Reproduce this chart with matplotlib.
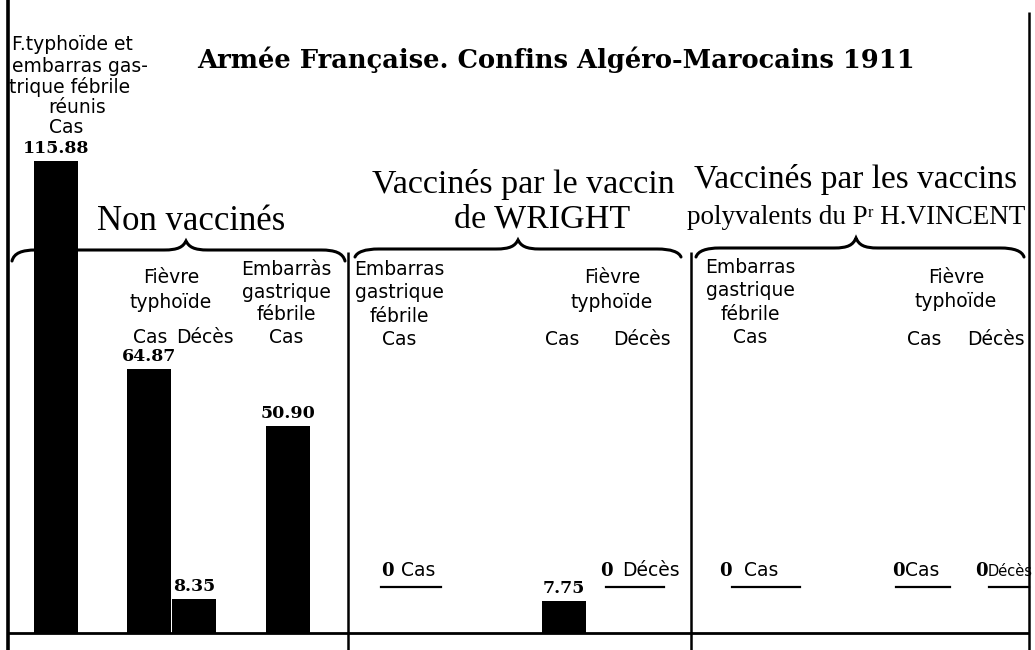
import matplotlib
matplotlib.use("Agg")
import matplotlib.pyplot as plt
from matplotlib.path import Path
from matplotlib.patches import PathPatch

# --- data -----------------------------------------------------------------
bar_labels = ["F. typhoïde et embarras gastrique fébrile réunis – Cas",
              "Non vaccinés – Fièvre typhoïde – Cas",
              "Non vaccinés – Fièvre typhoïde – Décès",
              "Non vaccinés – Embarras gastrique fébrile – Cas",
              "Vaccin de Wright – Fièvre typhoïde – Cas"]
bar_values = [115.88, 64.87, 8.35, 50.90, 7.75]
value_texts = ["115.88", "64.87", "8.35", "50.90", "7.75"]
zero_labels = ["Cas", "Décès", "Cas", "Cas", "Décès"]

title = "Armée Française. Confins Algéro-Marocains 1911"
group_titles = ["Non vaccinés",
                "Vaccinés par le vaccin\nde WRIGHT",
                "Vaccinés par les vaccins\npolyvalents du Pʳ H.VINCENT"]

# --- layout (figure pixel units) -----------------------------------------
W, H = 1035, 650
BASE = 633                      # baseline pixel row
PX_PER_UNIT = 4.07
bar_x = [56, 149, 194, 288, 564]
bar_w = 44

SANS = dict(family="DejaVu Sans")
SERIF = dict(family="Liberation Serif")
NUM = dict(family="DejaVu Serif", weight="bold")

fig = plt.figure(figsize=(W / 100, H / 100), dpi=100)
fig.patch.set_facecolor("white")

# layout axes: x/y in pixels, y pointing down
lay = fig.add_axes([0, 0, 1, 1])
lay.set_xlim(0, W)
lay.set_ylim(H, 0)
lay.axis("off")

# value axes: bottom edge on the baseline
top_val = BASE / PX_PER_UNIT
val = fig.add_axes([0, (H - BASE) / H, 1, BASE / H])
val.set_xlim(0, W)
val.set_ylim(0, top_val)
val.axis("off")
val.patch.set_alpha(0)

val.bar(bar_x, bar_values, width=bar_w, color="black", linewidth=0)
for x, v, t in zip(bar_x, bar_values, value_texts):
    val.annotate(t, xy=(x, v), xytext=(0, 3), textcoords="offset points",
                 ha="center", va="bottom", fontsize=12.5, **NUM)

# frame lines
lk = dict(color="black", solid_capstyle="butt")
lay.plot([8, 8], [0, H], lw=2.6, **lk)
lay.plot([8, 1029], [BASE, BASE], lw=2.0, **lk)
lay.plot([348, 348], [252, H], lw=1.8, **lk)
lay.plot([691, 691], [252, H], lw=1.8, **lk)
lay.plot([1029, 1029], [12, H], lw=1.8, **lk)


def brace(x0, x1, y, xm, tip, hook):
    """Horizontal curly brace opening downward, point at (xm, y - tip)."""
    verts = [(x0, y + hook),
             (x0 + 2, y + 3), (x0 + 10, y), (x0 + 24, y),
             (xm - 22, y),
             (xm - 8, y), (xm - 3, y - 3), (xm, y - tip),
             (xm + 3, y - 3), (xm + 8, y), (xm + 22, y),
             (x1 - 24, y),
             (x1 - 10, y), (x1 - 2, y + 3), (x1, y + hook)]
    codes = [Path.MOVETO,
             Path.CURVE4, Path.CURVE4, Path.CURVE4,
             Path.LINETO,
             Path.CURVE4, Path.CURVE4, Path.CURVE4,
             Path.CURVE4, Path.CURVE4, Path.CURVE4,
             Path.LINETO,
             Path.CURVE4, Path.CURVE4, Path.CURVE4]
    lay.add_patch(PathPatch(Path(verts, codes), fill=False, lw=2.2,
                            edgecolor="black", capstyle="round"))


brace(12, 345, 250, 186, 9, 11)
brace(355, 681, 249, 518, 9, 8)
brace(696, 1024, 248, 856, 10, 9)

# title
lay.text(556, 68, title, ha="center", va="baseline", fontsize=18.5,
         family="DejaVu Serif", weight="bold")

# group headings
lay.text(191, 230, group_titles[0], ha="center", va="baseline",
         fontsize=25, **SERIF)
head2 = group_titles[1].split("\n")
lay.text(523, 193, head2[0], ha="center", va="baseline", fontsize=24.5, **SERIF)
lay.text(542, 228, head2[1], ha="center", va="baseline", fontsize=24.5, **SERIF)
head3 = group_titles[2].split("\n")
lay.text(856, 188, head3[0], ha="center", va="baseline", fontsize=24, **SERIF)
lay.text(856, 224, head3[1], ha="center", va="baseline", fontsize=19.5, **SERIF)

# column headings
FS = 13.5


def txt(x, y, s, ha="center", fs=FS):
    lay.text(x, y, s, ha=ha, va="baseline", fontsize=fs, **SANS)


def lines(x, y0, rows, step=22):
    for i, r in enumerate(rows):
        txt(x, y0 + i * step, r)


txt(12, 50, "F.typhoïde et", ha="left")
txt(12, 72, "embarras gas-", ha="left")
txt(9, 93, "trique fébrile", ha="left")
txt(77, 113, "réunis")
txt(66, 133, "Cas")

lines(171, 283, ["Fièvre", "typhoïde"], step=25)
txt(150, 343, "Cas")
txt(205, 343, "Décès")
lines(286, 275, ["Embarràs", "gastrique", "fébrile", "Cas"], step=22.7)

lines(399, 275, ["Embarras", "gastrique", "fébrile", "Cas"], step=23.3)
lines(612, 283, ["Fièvre", "typhoïde"], step=25)
txt(562, 345, "Cas")
txt(642, 345, "Décès")

lines(750, 273, ["Embarras", "gastrique", "fébrile", "Cas"], step=23.3)
lines(956, 283, ["Fièvre", "typhoïde"], step=24)
txt(924, 345, "Cas")
txt(996, 345, "Décès")

# zero entries: "0 <label>" with a short rule beneath
zero_x = [381, 600, 719, 892, 975]
label_x = [401, 622, 744, 905, 988]
label_fs = [FS, FS, FS, FS, 10.5]
rule_x = [(381, 441), (606, 664), (732, 800), (896, 950), (989, 1029)]
for x, lx, lbl, fs, (r0, r1) in zip(zero_x, label_x, zero_labels, label_fs, rule_x):
    lay.text(x, 576, "0", ha="left", va="baseline", fontsize=13, **NUM)
    txt(lx, 576, lbl, ha="left", fs=fs)
    lay.plot([r0, r1], [587, 587], color="black", lw=1.6)

fig.savefig("out.png", dpi=100, facecolor="white")
